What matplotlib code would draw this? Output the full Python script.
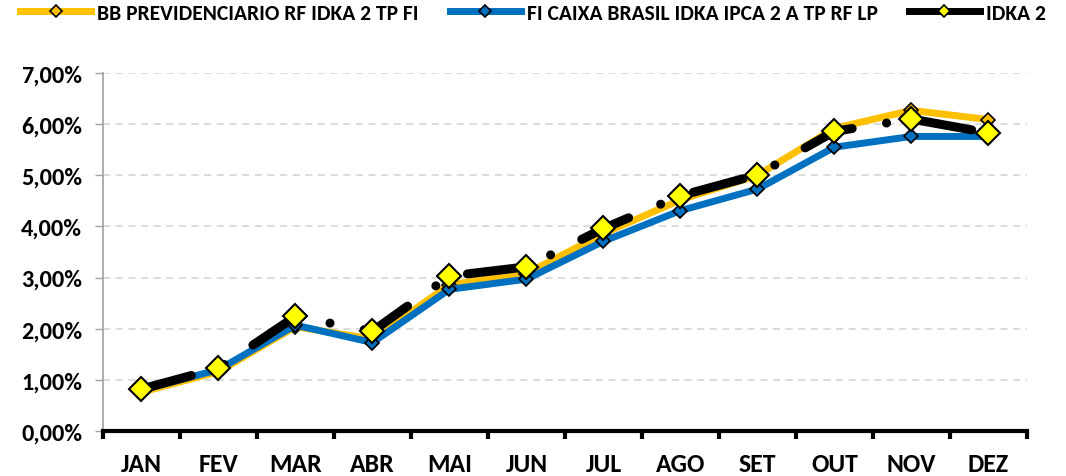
import matplotlib.pyplot as plt
from matplotlib.lines import Line2D
from matplotlib.ticker import FuncFormatter, FixedLocator

# dados (rentabilidade acumulada, %)
meses = ['JAN', 'FEV', 'MAR', 'ABR', 'MAI', 'JUN', 'JUL', 'AGO', 'SET', 'OUT', 'NOV', 'DEZ']
bb_prev = [0.76, 1.16, 2.04, 1.80, 2.86, 3.08, 3.86, 4.52, 5.00, 5.92, 6.27, 6.09]
caixa = [0.80, 1.20, 2.07, 1.73, 2.77, 2.97, 3.71, 4.31, 4.73, 5.55, 5.76, 5.76]
idka2 = [0.82, 1.23, 2.24, 1.95, 3.03, 3.21, 3.96, 4.60, 5.01, 5.86, 6.10, 5.83]

nomes = ['BB PREVIDENCIARIO RF IDKA 2 TP FI', 'FI CAIXA BRASIL IDKA IPCA 2 A TP RF LP', 'IDKA 2']

laranja = '#FFC000'
azul = '#0070C0'

plt.rcParams['font.family'] = ['Carlito', 'DejaVu Sans']
plt.rcParams['font.weight'] = 'bold'

fig = plt.figure(figsize=(10.66, 4.77), dpi=100)
ax = fig.add_axes([0.0966, 0.0943, 0.8668, 0.7505])

x = list(range(len(meses)))
yb = [v / 100 for v in bb_prev]
yc = [v / 100 for v in caixa]
yi = [v / 100 for v in idka2]

ax.plot(x, yb, color=laranja, lw=5, marker='D', ms=7, mfc=laranja, mec='black', mew=1.2, zorder=3)
ax.plot(x, yc, color=azul, lw=5, marker='D', ms=7, mfc=azul, mec='black', mew=1.2, zorder=4)
ax.plot(x, yi, color='black', lw=6.5, ls=(0, (5.72, 3.85, 0.01, 3.85)), dash_capstyle='round',
        marker='D', ms=12, mfc='#FFFF00', mec='black', mew=1.5, zorder=5)

ax.set_xlim(-0.5, 11.5)
ax.set_ylim(0, 0.07)
ax.yaxis.set_major_locator(FixedLocator([i / 100 for i in range(8)]))
ax.yaxis.set_major_formatter(FuncFormatter(lambda v, p: f'{v * 100:.2f}%'.replace('.', ',')))
ax.grid(axis='y', color='#D9D9D9', ls=(0, (4, 3)), lw=1.3, zorder=0)

ax.set_xticks(x)
ax.set_xticklabels(meses, fontsize=18.5, fontweight='bold')
ax.set_xticks([i - 0.5 for i in range(13)], minor=True)
ax.tick_params(axis='x', which='major', length=0, pad=15)
ax.tick_params(axis='x', which='minor', length=6, width=3, color='black', direction='out')
ax.tick_params(axis='y', labelsize=17.5, length=6, width=1, color='#A0A0A0', pad=9)
for lab in ax.get_yticklabels():
    lab.set_fontweight('bold')

for s in ['top', 'right']:
    ax.spines[s].set_visible(False)
ax.spines['left'].set_color('#A0A0A0')
ax.spines['left'].set_linewidth(1.2)
ax.spines['bottom'].set_color('black')
ax.spines['bottom'].set_linewidth(3)

handles = [
    Line2D([], [], color=laranja, lw=5, marker='D', ms=6, mfc=laranja, mec='black', mew=1.2),
    Line2D([], [], color=azul, lw=5, marker='D', ms=6, mfc=azul, mec='black', mew=1.2),
    Line2D([], [], color='black', lw=5, marker='D', ms=6, mfc='#FFFF00', mec='black', mew=1.2),
]
fig.legend(handles, nomes, loc='upper left', bbox_to_anchor=(20 / 1066, 1 - 4 / 477), ncol=3,
           frameon=False, borderpad=0, borderaxespad=0,
           handlelength=3.3, columnspacing=1.45, handletextpad=0.28,
           prop={'family': ['Carlito', 'DejaVu Sans'], 'weight': 'bold', 'size': 15.5})

fig.savefig('out.png', dpi=100)
